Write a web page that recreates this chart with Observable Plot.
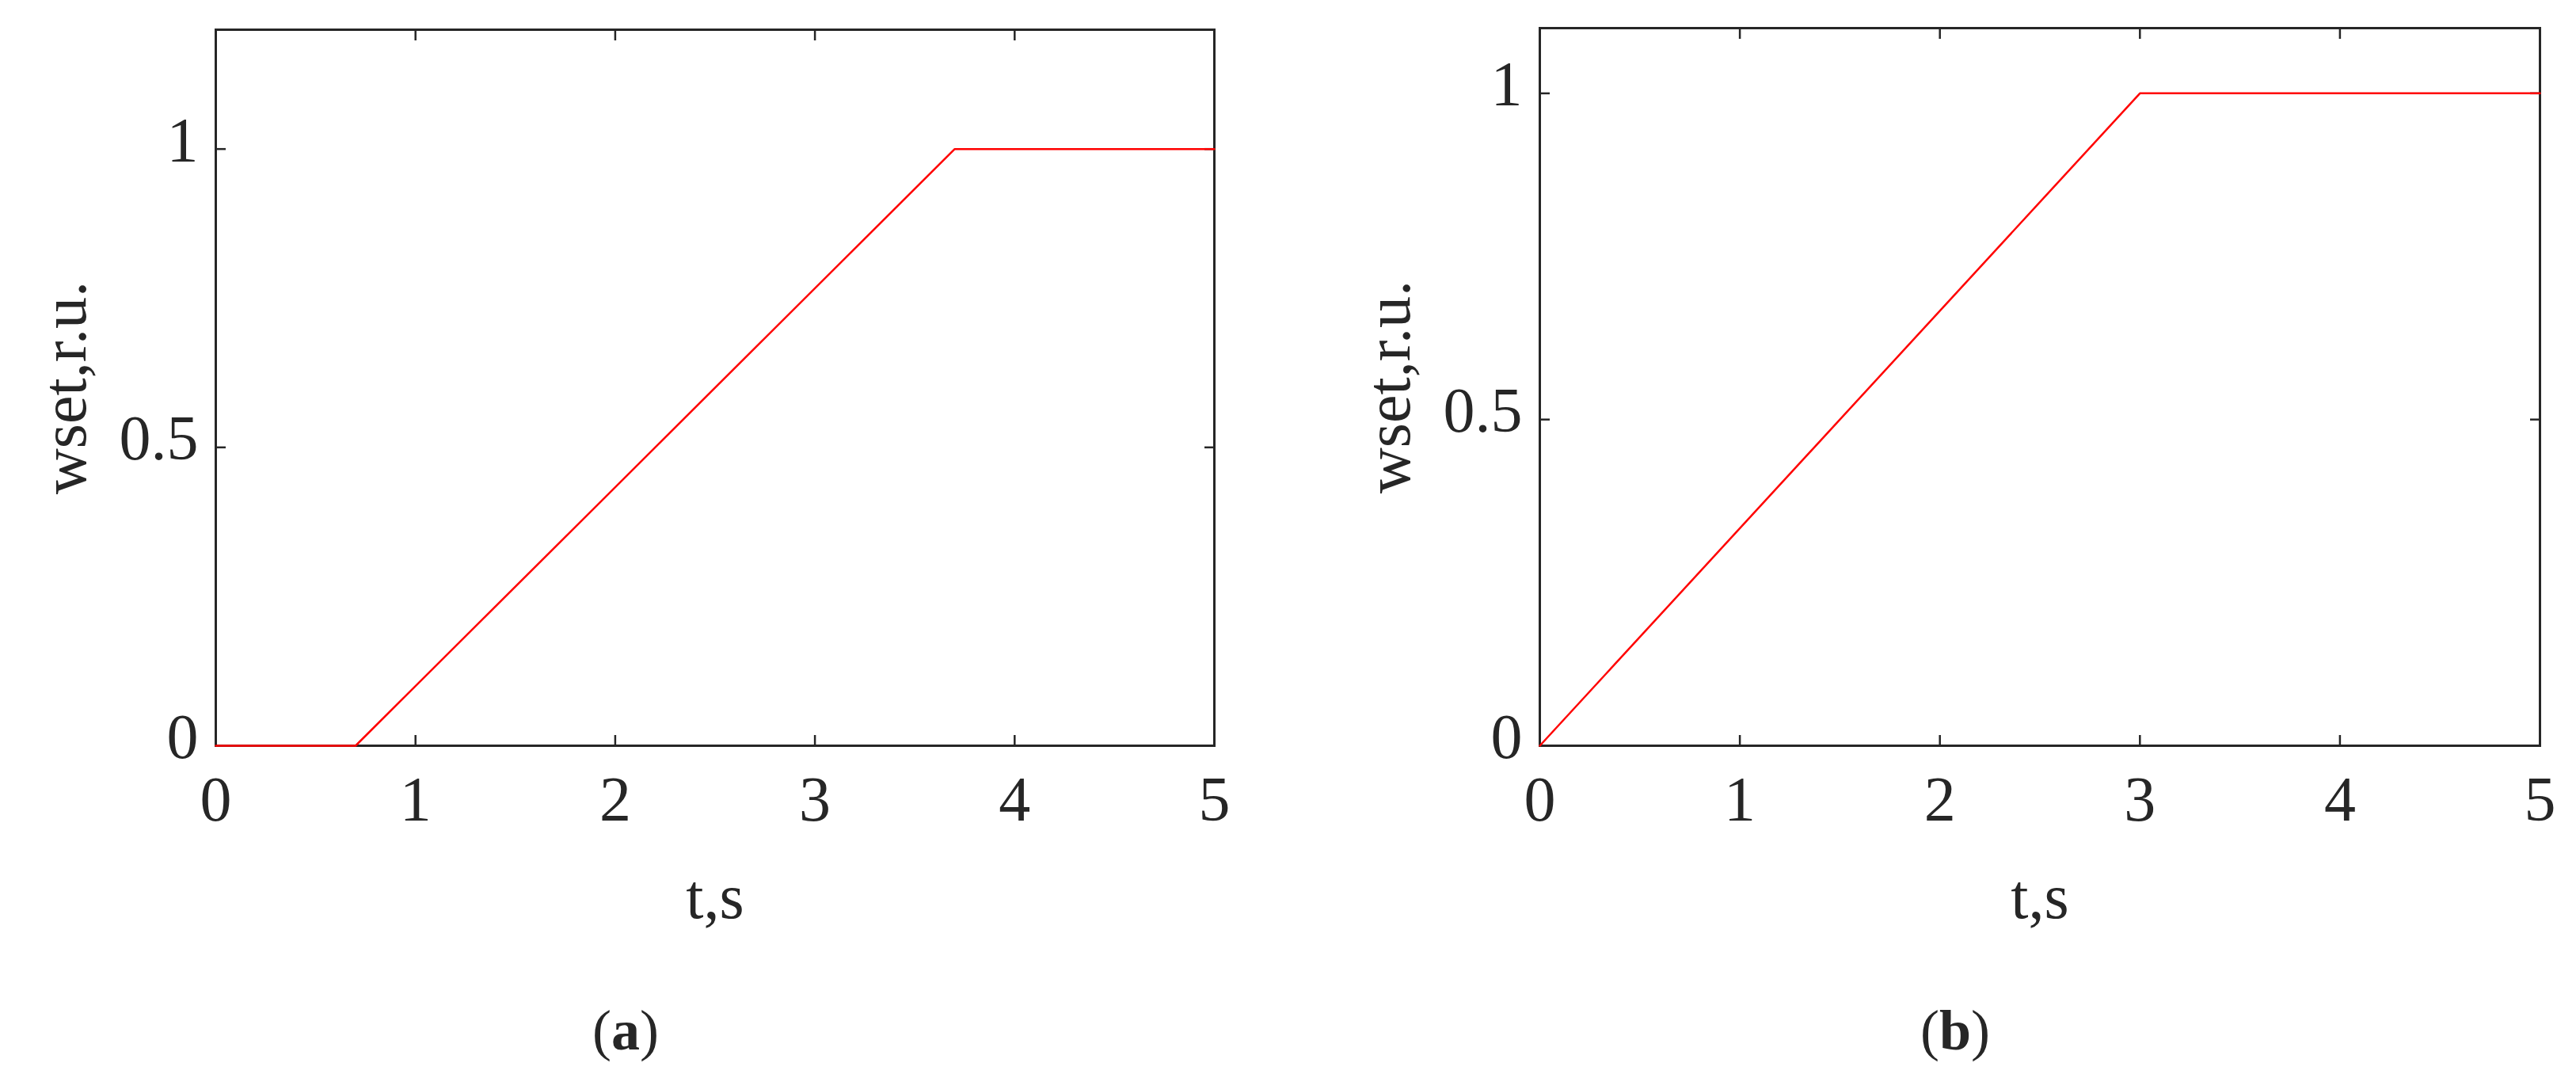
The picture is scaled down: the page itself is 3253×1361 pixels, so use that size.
<!DOCTYPE html>
<html><head><meta charset="utf-8">
<script src="https://cdn.jsdelivr.net/npm/d3@7"></script>
<script src="https://cdn.jsdelivr.net/npm/@observablehq/plot@0.6"></script>
<style>
html,body{margin:0;padding:0;background:#fff;}
#root{position:relative;width:3253px;height:1361px;overflow:hidden;background:#fff;}
.panel{position:absolute;top:0;}
.cap{position:absolute;font-family:"Liberation Serif",serif;font-size:72px;color:#262626;transform:translate(-50%,-50%);white-space:nowrap;line-height:1;}
</style></head><body><div id="root"></div>
<script>
// Panel (a): wset ramps from 0 at t=0.7 s to 1 at t=3.7 s
const tA = [0, 0.7, 3.7, 5];
const wA = [0, 0, 1, 1];
// Panel (b): wset ramps from 0 at t=0 s to 1 at t=3 s
const tB = [0, 3, 5];
const wB = [0, 1, 1];
const xTicks = [0, 1, 2, 3, 4, 5];
const yTicks = [0, 0.5, 1];
const xLabel = "t,s";
const yLabel = "wset,r.u.";
const captionLetters = ["a", "b"];
const yMaxA = 1.2;
const yMaxB = 1.1;

const INK = "#262626";
const RED = "#ff0000";

function panel(t, w, yMax, layout) {
  const data = t.map((v, i) => ({t: v, w: w[i]}));
  const tickOpts = {tickSize: -13, strokeWidth: 2.5, tickFormat: () => "", label: null};
  return Plot.plot({
    width: layout.width,
    height: layout.height,
    marginLeft: layout.ml,
    marginRight: layout.mr,
    marginTop: layout.mt,
    marginBottom: layout.mb,
    style: {fontFamily: "'Liberation Serif', serif", fontSize: "80px", color: INK, background: "white", overflow: "visible"},
    x: {domain: [0, 5]},
    y: {domain: [0, yMax]},
    marks: [
      Plot.axisX(xTicks, {anchor: "bottom", ...tickOpts}),
      Plot.axisX(xTicks, {anchor: "top", ...tickOpts}),
      Plot.axisY(yTicks, {anchor: "left", ...tickOpts}),
      Plot.axisY(yTicks, {anchor: "right", ...tickOpts}),
      Plot.axisX(xTicks, {anchor: "bottom", tickSize: 0, tickPadding: 38, fontSize: 80,
        tickFormat: d => String(d),
        label: xLabel, labelAnchor: "center", labelOffset: 217, labelArrow: "none"}),
      Plot.axisY(yTicks, {anchor: "left", tickSize: 0, tickPadding: 22, dy: -10, fontSize: 80,
        tickFormat: d => String(d),
        label: yLabel, labelAnchor: "center", labelOffset: 221, labelArrow: "none"}),
      Plot.frame({stroke: INK, strokeWidth: 3}),
      Plot.line(data, {x: "t", y: "w", stroke: RED, strokeWidth: 2.5})
    ]
  });
}

const root = document.getElementById("root");
const layouts = [
  {left: 0, width: 1620, height: 1200, ml: 272, mr: 87, mt: 37, mb: 259, cap: 790},
  {left: 1630, width: 1623, height: 1200, ml: 314, mr: 46, mt: 35, mb: 259, cap: 2469}
];
const series = [[tA, wA, yMaxA], [tB, wB, yMaxB]];
layouts.forEach((L, i) => {
  const div = document.createElement("div");
  div.className = "panel";
  div.style.left = L.left + "px";
  div.appendChild(panel(series[i][0], series[i][1], series[i][2], L));
  root.appendChild(div);
  const cap = document.createElement("div");
  cap.className = "cap";
  cap.style.left = L.cap + "px";
  cap.style.top = "1301px";
  cap.append("(");
  const b = document.createElement("b");
  b.textContent = captionLetters[i];
  cap.append(b);
  cap.append(")");
  root.appendChild(cap);
});
</script></body></html>
